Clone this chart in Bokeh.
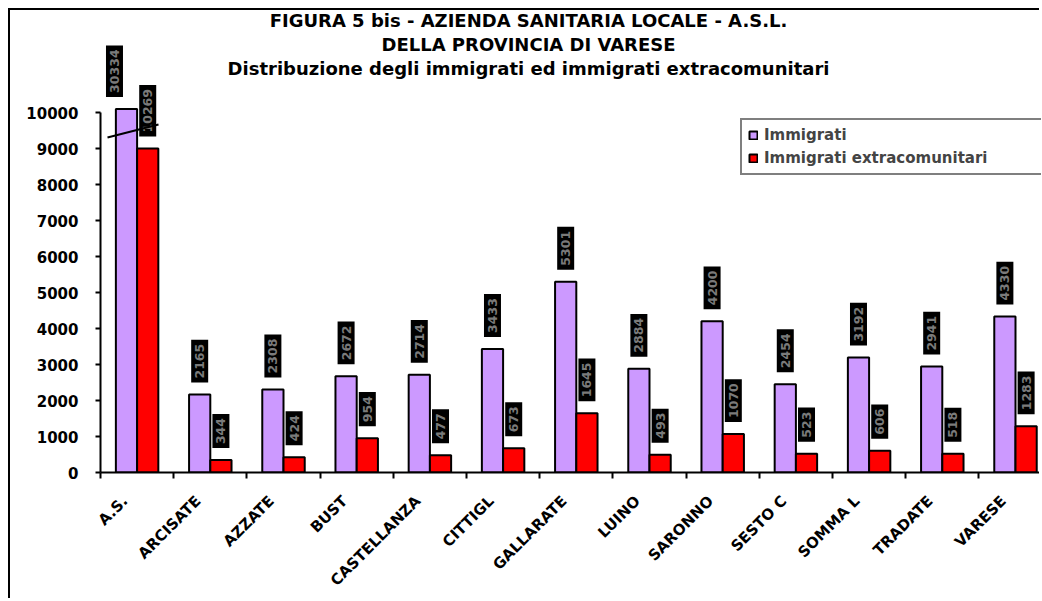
import numpy as np
from bokeh.plotting import figure
from bokeh.models import Range1d, FixedTicker, Label, Legend, LegendItem, ColumnDataSource
from bokeh.core.properties import value
from bokeh.embed import file_html
from bokeh.resources import INLINE

# ---------------- data ----------------
categories = ["A.S.", "ARCISATE", "AZZATE", "BUST", "CASTELLANZA", "CITTIGL",
              "GALLARATE", "LUINO", "SARONNO", "SESTO C", "SOMMA L", "TRADATE", "VARESE"]
immigrati = [30334, 2165, 2308, 2672, 2714, 3433, 5301, 2884, 4200, 2454, 3192, 2941, 4330]
extracomunitari = [10269, 344, 424, 954, 477, 673, 1645, 493, 1070, 523, 606, 518, 1283]
# the A.S.L. bars are drawn "broken" (axis break): heights as they appear in the picture
broken_immigrati = 10100
broken_extracomunitari = 9000
series_names = ["Immigrati", "Immigrati extracomunitari"]
y_ticks = [0, 1000, 2000, 3000, 4000, 5000, 6000, 7000, 8000, 9000, 10000]
title_lines = ["FIGURA 5 bis - AZIENDA SANITARIA LOCALE - A.S.L.",
               "DELLA PROVINCIA DI VARESE",
               "Distribuzione degli immigrati ed immigrati extracomunitari"]

# ---------------- layout ----------------
W, H = 1031, 590
FRAME_LEFT, FRAME_BOTTOM = 90, 128
frame_h = H - FRAME_BOTTOM          # 462 -> frame from page y 10 to 472
px_per_cat = 73.2
frame_w = W - FRAME_LEFT
x_end = frame_w / px_per_cat
y_per_px = 10000 / 360.0
y_end = frame_h * y_per_px

def page_y(py):
    # page pixel row -> data y (frame top at page y=10)
    return (10 + frame_h - py) * y_per_px

FONT = "DejaVu Sans"
PURPLE = "#CC99FF"
RED = "#FF0000"

p = figure(width=W, height=H, output_backend="svg", toolbar_location=None,
           x_range=Range1d(0, x_end), y_range=Range1d(0, y_end),
           min_border_left=FRAME_LEFT, min_border_right=0, min_border_top=0,
           min_border_bottom=FRAME_BOTTOM)
p.styles = {"margin-top": "8px", "margin-left": "8px",
            "border-top": "2px solid black", "border-left": "2px solid black"}
p.grid.visible = False
p.outline_line_color = None
p.background_fill_color = "white"
p.border_fill_color = "white"

n = len(categories)
centers = np.arange(n) + 0.5
bw = 0.29
x_imm = centers - bw / 2
x_ext = centers + bw / 2

imm_shown = list(immigrati)
imm_shown[0] = broken_immigrati
ext_shown = list(extracomunitari)
ext_shown[0] = broken_extracomunitari

lbl_x_imm = x_imm.copy()
lbl_x_imm[0] -= 12 / px_per_cat

src = ColumnDataSource(dict(
    x_imm=x_imm, x_ext=x_ext, lx_imm=lbl_x_imm, imm=imm_shown, ext=ext_shown,
    imm_txt=[str(v) for v in immigrati], ext_txt=[str(v) for v in extracomunitari],
))

r1 = p.vbar(x="x_imm", top="imm", width=bw, source=src, fill_color=PURPLE,
            line_color="black", line_width=2)
r2 = p.vbar(x="x_ext", top="ext", width=bw, source=src, fill_color=RED,
            line_color="black", line_width=2)

# value labels: rotated, in black boxes
for xcol, ycol, tcol in (("lx_imm", "imm", "imm_txt"), ("x_ext", "ext", "ext_txt")):
    p.text(x=xcol, y=ycol, text=tcol, source=src, angle=np.pi / 2,
           text_align="left", text_baseline="middle", x_offset=0, y_offset=-12,
           text_font=value(FONT), text_font_style="bold", text_font_size="12.5px",
           text_color="#7a7a7a", background_fill_color="black", padding=4)

# axis break marker
p.segment(x0=[7 / px_per_cat], y0=[page_y(137)], x1=[58 / px_per_cat], y1=[page_y(124)],
          line_color="black", line_width=2)

# titles
for i, t in enumerate(title_lines):
    p.add_layout(Label(x=(528 - 100) / px_per_cat, y=page_y(20 + 24 * i), text=t,
                       text_align="center", text_baseline="middle",
                       text_font=FONT, text_font_style="bold", text_font_size="18px",
                       text_color="black"))

# x axis: category names anchored slightly left of the group centre,
# boundary ticks drawn as minor ticks
label_pos = centers - 12 / px_per_cat
xa = p.xaxis[0]
xa.ticker = FixedTicker(ticks=list(label_pos), minor_ticks=list(range(0, n)))
xa.major_label_overrides = {float(c): name for c, name in zip(label_pos, categories)}
xa.major_tick_line_color = None
xa.minor_tick_in = 0
xa.minor_tick_out = 6
xa.minor_tick_line_width = 2
xa.minor_tick_line_color = "black"
xa.axis_line_width = 2
xa.axis_line_color = "black"
xa.major_label_orientation = np.pi / 4
xa.major_label_standoff = 20
xa.major_label_text_font = FONT
xa.major_label_text_font_style = "bold"
xa.major_label_text_font_size = "15px"
xa.major_label_text_color = "black"

# y axis
ya = p.yaxis[0]
ya.ticker = FixedTicker(ticks=y_ticks)
ya.bounds = (0, 10000)
ya.major_tick_in = 0
ya.major_tick_out = 5
ya.major_tick_line_width = 2
ya.axis_line_width = 2
ya.minor_tick_line_color = None
ya.major_label_standoff = 17
ya.major_label_text_font = FONT
ya.major_label_text_font_style = "bold"
ya.major_label_text_font_size = "15px"
ya.major_label_text_color = "black"

legend = Legend(items=[LegendItem(label=series_names[0], renderers=[r1]),
                       LegendItem(label=series_names[1], renderers=[r2])],
                location=(640, 297))
legend.label_text_font = FONT
legend.label_text_font_style = "bold"
legend.label_text_font_size = "15px"
legend.glyph_width = 10
legend.glyph_height = 10
legend.label_standoff = 6
legend.padding = 6
legend.spacing = 5
legend.margin = 0
legend.border_line_color = "black"
legend.border_line_width = 2
legend.label_width = 280
p.add_layout(legend)

open("out.html", "w").write(file_html(p, INLINE))
